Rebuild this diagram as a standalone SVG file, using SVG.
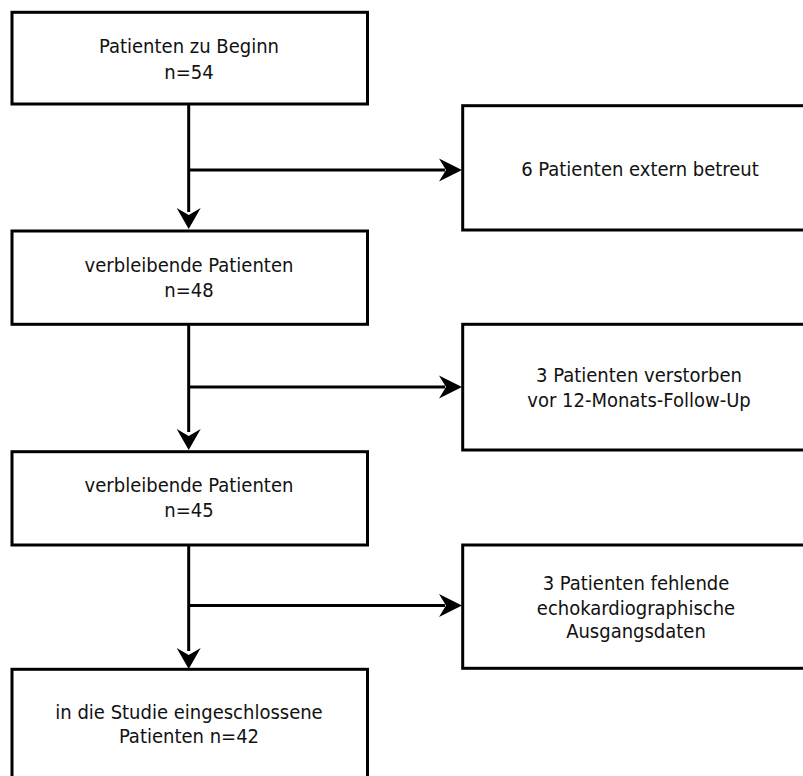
<svg xmlns="http://www.w3.org/2000/svg" width="803" height="776" viewBox="0 0 803 776">
<defs>
<style>
.box{fill:#fff;stroke:#000;stroke-width:3}
.ln{fill:none;stroke:#000;stroke-width:3}
.head{fill:#000;stroke:none}
text{font-family:"DejaVu Sans Condensed","DejaVu Sans",sans-serif;font-stretch:condensed;font-size:20px;fill:#111;text-anchor:middle}
</style>
</defs>
<rect width="803" height="776" fill="#fff"/>
<g id="connectors">
<line class="ln" x1="188.7" y1="104" x2="188.7" y2="212"/>
<line class="ln" x1="188.7" y1="170" x2="445" y2="170"/>
<path class="head" d="M188.7 229 L176.7 208 L188.7 215 L200.7 208 Z"/>
<path class="head" d="M462 170 L439 158.5 L446 170 L439 181.5 Z"/>
<line class="ln" x1="188.7" y1="324" x2="188.7" y2="432"/>
<line class="ln" x1="188.7" y1="387" x2="445" y2="387"/>
<path class="head" d="M188.7 450 L176.7 429 L188.7 436 L200.7 429 Z"/>
<path class="head" d="M462 387 L439 375.5 L446 387 L439 398.5 Z"/>
<line class="ln" x1="188.7" y1="545" x2="188.7" y2="651"/>
<line class="ln" x1="188.7" y1="605.5" x2="445" y2="605.5"/>
<path class="head" d="M188.7 669 L176.7 648 L188.7 655 L200.7 648 Z"/>
<path class="head" d="M462 605.5 L439 594 L446 605.5 L439 617 Z"/>
</g>
<g id="n1">
<rect class="box" x="12" y="12.3" width="355.5" height="91.7"/>
<text x="189" y="53">Patienten zu Beginn</text>
<text x="189" y="79">n=54</text>
</g>
<g id="r1">
<rect class="box" x="462.7" y="105.7" width="360" height="124.3"/>
<text x="640" y="176">6 Patienten extern betreut</text>
</g>
<g id="n2">
<rect class="box" x="12" y="231" width="355.5" height="93.3"/>
<text x="189" y="271.7">verbleibende Patienten</text>
<text x="189" y="296.7">n=48</text>
</g>
<g id="r2">
<rect class="box" x="462.7" y="324.3" width="360" height="125.7"/>
<text x="639" y="381.7">3 Patienten verstorben</text>
<text x="639" y="407.3">vor 12-Monats-Follow-Up</text>
</g>
<g id="n3">
<rect class="box" x="12" y="451.7" width="355.5" height="93.3"/>
<text x="189" y="491.7">verbleibende Patienten</text>
<text x="189" y="517">n=45</text>
</g>
<g id="r3">
<rect class="box" x="462.7" y="545" width="360" height="123.3"/>
<text x="636" y="590">3 Patienten fehlende</text>
<text x="636" y="615">echokardiographische</text>
<text x="636" y="638.3">Ausgangsdaten</text>
</g>
<g id="n4">
<rect class="box" x="12" y="669.3" width="355.5" height="130"/>
<text x="189" y="719.3">in die Studie eingeschlossene</text>
<text x="189" y="743.3">Patienten n=42</text>
</g>
</svg>
